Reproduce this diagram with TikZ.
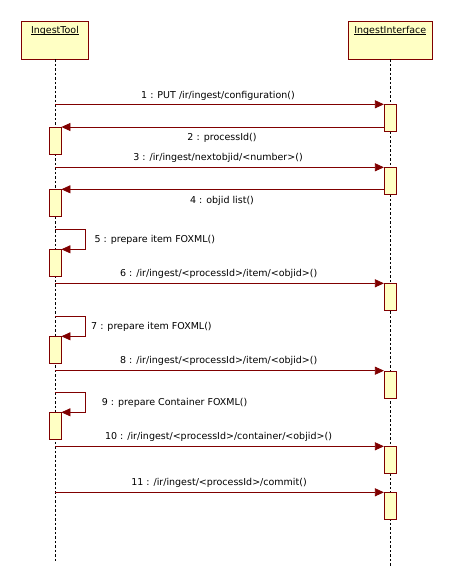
\documentclass[tikz,border=0pt]{standalone}
\usepackage{fontspec}
\setmainfont{DejaVu Sans}
\usetikzlibrary{arrows.meta}
\definecolor{umlred}{RGB}{128,0,0}
\definecolor{umlfill}{RGB}{255,255,196}
\newcommand\umlname[1]{\setbox0\hbox{#1}\rlap{\rule[-1.4bp]{\wd0}{0.6bp}}\box0}

\begin{document}
\begin{tikzpicture}[x=1bp, y=-1bp,
	participant/.style={draw=umlred, fill=umlfill, line width=0.8bp, minimum height=38bp, inner sep=0},
	activation/.style={draw=umlred, fill=umlfill, line width=0.8bp, minimum width=12bp, minimum height=27bp, inner sep=0, anchor=north},
	lifeline/.style={dash pattern=on 2.5bp off 2bp, line width=0.7bp},
	msg/.style={draw=umlred, line width=0.8bp, -{Triangle[length=9bp, width=8bp]}},
	lbl/.style={font=\fontsize{9.5bp}{11bp}\selectfont, inner sep=0}]
		%%%%% START %%%%%
		\useasboundingbox[fill=white] (0,0) rectangle (453,588);
		
		\node[participant, minimum width=67bp] (tool) at (55,40) {};
		\node[lbl, anchor=north] (toolname) at ([yshift=-5.5bp]tool.north) {\umlname{IngestTool}};
		\node[participant, minimum width=84bp] (iface) at (390.3,40) {};
		\node[lbl, anchor=north] (ifacename) at ([yshift=-5.5bp]iface.north) {\umlname{IngestInterface}};
		
		\coordinate (toolend) at (55,562);
		\coordinate (ifaceend) at (390.3,567);
		\draw[lifeline] (tool.south) -- (toolend);
		\draw[lifeline] (iface.south) -- (ifaceend);
		
		\node[activation] (r1) at (390.3,104.3) {};
		\node[activation] (r2) at (390.3,167.3) {};
		\node[activation] (r3) at (390.3,283.3) {};
		\node[activation] (r4) at (390.3,370.7) {};
		\node[activation] (r5) at (390.3,446.3) {};
		\node[activation] (r6) at (390.3,492.3) {};
		
		\node[activation] (l1) at (55,127) {};
		\node[activation] (l2) at (55,189.3) {};
		\node[activation] (l3) at (55,249.3) {};
		\node[activation] (l4) at (55,336.3) {};
		\node[activation] (l5) at (55,412.3) {};
		
		\coordinate (s1) at (55,104.3);
		\coordinate (s3) at (55,167.3);
		\coordinate (s5) at (55,229.3);
		\coordinate (s6) at (55,283.3);
		\coordinate (s7) at (55,316.3);
		\coordinate (s8) at (55,370.7);
		\coordinate (s9) at (55,392.7);
		\coordinate (s10) at (55,446.3);
		\coordinate (s11) at (55,492.3);
		
		\draw[msg] (s1) -- (r1.north west);
		\draw[msg] (r1.west |- l1.north) -- (l1.north east);
		\draw[msg] (s3) -- (r2.north west);
		\draw[msg] (r2.west |- l2.north) -- (l2.north east);
		\draw[msg] (s5) -- ++(30.3,0) |- (l3.north east);
		\draw[msg] (s6) -- (r3.north west);
		\draw[msg] (s7) -- ++(30.3,0) |- (l4.north east);
		\draw[msg] (s8) -- (r4.north west);
		\draw[msg] (s9) -- ++(30.3,0) |- (l5.north east);
		\draw[msg] (s10) -- (r5.north west);
		\draw[msg] (s11) -- (r6.north west);
		
		\node[lbl] (t1) at (218,95.7) {1 : PUT /ir/ingest/configuration()};
		\node[lbl] (t2) at (222,137.7) {2 : processId()};
		\node[lbl] (t3) at (218,158) {3 : /ir/ingest/nextobjid/<number>()};
		\node[lbl] (t4) at (222,200.5) {4 : objid list()};
		\node[lbl, anchor=west] (t5) at (94.3,240.3) {5 : prepare item FOXML()};
		\node[lbl] (t6) at (218.7,274) {6 : /ir/ingest/<processId>/item/<objid>()};
		\node[lbl, anchor=west] (t7) at (91,327) {7 : prepare item FOXML()};
		\node[lbl] (t8) at (218.7,361.3) {8 : /ir/ingest/<processId>/item/<objid>()};
		\node[lbl, anchor=west] (t9) at (101.7,403.3) {9 : prepare Container FOXML()};
		\node[lbl] (t10) at (218.5,437) {10 : /ir/ingest/<processId>/container/<objid>()};
		\node[lbl] (t11) at (219,483) {11 : /ir/ingest/<processId>/commit()};
		
		%%%%% END %%%%%
\end{tikzpicture}
\end{document}
